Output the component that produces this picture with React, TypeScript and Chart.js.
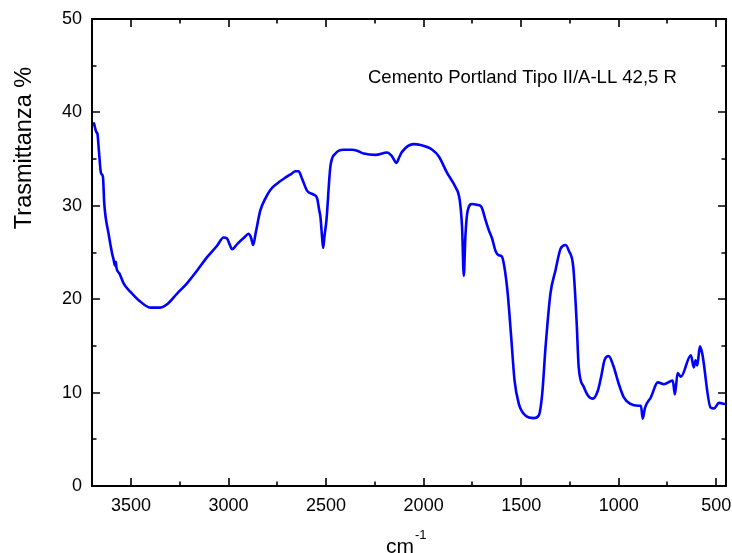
import React, { useEffect, useRef } from "react";
import { Chart, registerables } from "chart.js";

Chart.register(...registerables);

// Wavenumber (cm-1) and transmittance (%)
const wavenumbers: number[] = [
  3695, 3690, 3678, 3672, 3665, 3654, 3644, 3637, 3615, 3597, 3590, 3582, 3578, 3575, 3558, 3538,
  3504, 3461, 3401, 3350, 3315, 3264, 3213, 3160, 3110, 3060, 3025, 3008, 2995, 2982, 2956, 2920,
  2897, 2885, 2874, 2860, 2837, 2811, 2786, 2750, 2717, 2680, 2657, 2641, 2623, 2597, 2564, 2546,
  2535, 2529, 2520, 2515, 2508, 2498, 2478, 2452, 2410, 2367, 2341, 2307, 2247, 2187, 2162, 2139,
  2125, 2110, 2051, 2016, 1956, 1923, 1879, 1837, 1815, 1803, 1794, 1786, 1774, 1751, 1726, 1709,
  1700, 1683, 1666, 1649, 1632, 1615, 1600, 1586, 1569, 1551, 1534, 1512, 1478, 1435, 1410, 1392,
  1375, 1350, 1324, 1298, 1272, 1256, 1233, 1216, 1205, 1179, 1158, 1133, 1107, 1090, 1073, 1051,
  1028, 1000, 974, 940, 900, 886, 877, 865, 835, 800, 769, 723, 712, 698, 681, 630,
  615, 606, 597, 584, 572, 529, 511, 486, 452,
];
const transmittance: number[] = [
  38.9, 38.8, 37.9, 37.7, 36.0, 33.5, 33.1, 30.2, 27.0, 24.9, 24.3, 23.6, 24.0, 23.4, 22.7, 21.7,
  20.8, 19.9, 19.1, 19.1, 19.45, 20.6, 21.7, 23.1, 24.5, 25.7, 26.6, 26.5, 25.9, 25.35, 25.9, 26.6,
  27.0, 26.6, 25.8, 27.2, 29.5, 30.8, 31.7, 32.4, 32.9, 33.4, 33.7, 33.7, 32.9, 31.6, 31.2, 30.8,
  29.5, 28.8, 26.5, 25.5, 26.8, 28.5, 34.2, 35.6, 36.0, 36.0, 35.9, 35.6, 35.45, 35.7, 35.3, 34.6,
  35.2, 35.8, 36.6, 36.5, 36.0, 35.3, 33.5, 32.0, 30.6, 27.7, 22.5, 26.7, 29.5, 30.2, 30.1, 30.0,
  29.7, 28.5, 27.4, 26.5, 25.2, 24.7, 24.6, 23.45, 20.6, 15.9, 11.3, 8.8, 7.55, 7.27, 7.55, 9.9,
  14.9, 20.6, 23.1, 25.4, 25.8, 25.2, 23.45, 17.7, 12.7, 10.6, 9.7, 9.35, 10.2, 11.7, 13.45, 13.9,
  12.9, 10.95, 9.5, 8.8, 8.6, 8.6, 7.2, 8.4, 9.5, 11.1, 10.9, 11.3, 9.8, 12.1, 11.7, 14.0,
  12.7, 13.45, 12.9, 14.95, 14.2, 8.4, 8.3, 8.9, 8.75,
];

const xMajorTicks: number[] = [3500, 3000, 2500, 2000, 1500, 1000, 500];
const xMinorTicks: number[] = [3250, 2750, 2250, 1750, 1250, 750];
const yMajorTicks: number[] = [0, 10, 20, 30, 40, 50];
const yMinorTicks: number[] = [5, 15, 25, 35, 45];

const yTitle = "Trasmittanza %";
const xTitle = "cm";
const xTitleSup = "-1";
const annotation = "Cemento Portland Tipo II/A-LL 42,5 R";

const FONT = "'Liberation Sans', Arial, sans-serif";

const framePlugin = {
  id: "frameAndTicks",
  afterDraw(chart: any) {
    const ctx = chart.ctx as CanvasRenderingContext2D;
    const { left, right, top, bottom } = chart.chartArea;
    const xs = chart.scales.x;
    const ys = chart.scales.y;
    ctx.save();
    ctx.strokeStyle = "#000";
    ctx.lineWidth = 2;
    ctx.strokeRect(left, top, right - left, bottom - top);
    const major = 8;
    const minor = 4.5;
    ctx.lineWidth = 1.6;
    ctx.beginPath();
    const xt = (v: number, len: number) => {
      const px = Math.round(xs.getPixelForValue(v));
      ctx.moveTo(px, bottom);
      ctx.lineTo(px, bottom - len);
      ctx.moveTo(px, top);
      ctx.lineTo(px, top + len);
    };
    const yt = (v: number, len: number) => {
      const py = Math.round(ys.getPixelForValue(v));
      ctx.moveTo(left, py);
      ctx.lineTo(left + len, py);
      ctx.moveTo(right, py);
      ctx.lineTo(right - len, py);
    };
    xMajorTicks.forEach((v) => xt(v, major));
    xMinorTicks.forEach((v) => xt(v, minor));
    yMajorTicks.forEach((v) => yt(v, major));
    yMinorTicks.forEach((v) => yt(v, minor));
    ctx.stroke();

    ctx.fillStyle = "#000";
    // annotation
    ctx.font = `18.5px ${FONT}`;
    ctx.textAlign = "left";
    ctx.textBaseline = "middle";
    ctx.fillText(annotation, 368, 78);
    // y title
    ctx.save();
    ctx.translate(25, 148);
    ctx.rotate(-Math.PI / 2);
    ctx.font = `23.5px ${FONT}`;
    ctx.textAlign = "center";
    ctx.textBaseline = "middle";
    ctx.fillText(yTitle, 0, 0);
    ctx.restore();
    // x title
    ctx.font = `21px ${FONT}`;
    ctx.textAlign = "left";
    ctx.textBaseline = "alphabetic";
    ctx.fillText(xTitle, 386, 553);
    ctx.font = `13px ${FONT}`;
    ctx.fillText(xTitleSup, 415, 539);
    ctx.restore();
  },
};

export default function App() {
  const ref = useRef<HTMLCanvasElement | null>(null);
  useEffect(() => {
    if (!ref.current) return;
    const points = wavenumbers.map((w, i) => ({ x: w, y: transmittance[i] }));
    const chart = new Chart(ref.current, {
      type: "line",
      data: {
        datasets: [
          {
            data: points,
            borderColor: "rgb(0,0,255)",
            borderWidth: 2.6,
            pointRadius: 0,
            fill: false,
            cubicInterpolationMode: "monotone",
          },
        ],
      },
      options: {
        animation: false,
        responsive: false,
        devicePixelRatio: 1,
        layout: { padding: { left: 0, top: 19, right: 6, bottom: 0 } },
        plugins: { legend: { display: false }, tooltip: { enabled: false } },
        scales: {
          x: {
            type: "linear",
            reverse: true,
            min: 450,
            max: 3700,
            grid: { display: false, drawTicks: false },
            border: { display: false },
            afterBuildTicks: (s: any) => {
              s.ticks = xMajorTicks.map((v) => ({ value: v }));
            },
            afterFit: (s: any) => {
              s.height = 67;
              s.paddingLeft = 0;
              s.paddingRight = 0;
            },
            ticks: {
              padding: 9,
              color: "#000",
              font: { family: FONT, size: 18 },
              maxRotation: 0,
              autoSkip: false,
              callback: (v: any) => String(v),
            },
          },
          y: {
            type: "linear",
            min: 0,
            max: 50,
            grid: { display: false, drawTicks: false },
            border: { display: false },
            afterBuildTicks: (s: any) => {
              s.ticks = yMajorTicks.map((v) => ({ value: v }));
            },
            afterFit: (s: any) => {
              s.width = 92;
              s.paddingTop = 0;
              s.paddingBottom = 0;
            },
            ticks: {
              padding: 10,
              color: "#000",
              font: { family: FONT, size: 18 },
              callback: (v: any) => String(v),
            },
          },
        },
      },
      plugins: [framePlugin],
    });
    return () => chart.destroy();
  }, []);
  return (
    <div style={{ position: "fixed", left: 0, top: 0, width: 732, height: 553, background: "#fff" }}>
      <canvas ref={ref} width={732} height={553} style={{ width: 732, height: 553, display: "block" }} />
    </div>
  );
}
